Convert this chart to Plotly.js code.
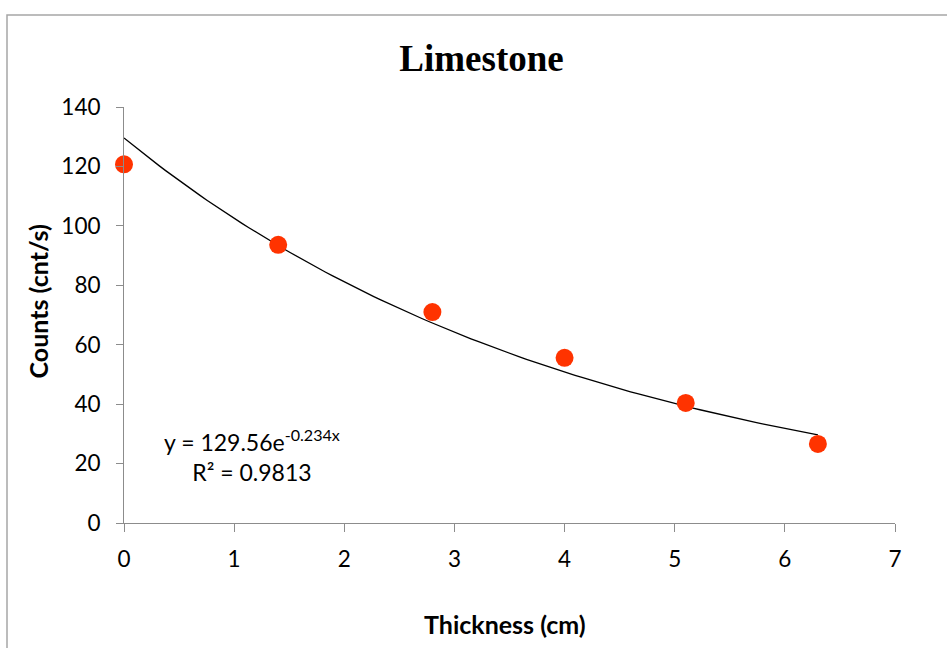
<!DOCTYPE html>
<html>
<head>
<meta charset="utf-8">
<script src="https://cdn.plot.ly/plotly-3.0.1.min.js"></script>
<style>html,body{margin:0;padding:0;background:#fff;}#chart{width:947px;height:648px;}</style>
</head>
<body>
<div id="chart"></div>
<script>
// Data
var thickness = [0, 1.4, 2.8, 4.0, 5.1, 6.3];
var counts = [120.7, 93.6, 71.0, 55.6, 40.4, 26.6];
// Trendline coefficients as printed on the chart: y = A * e^(B x)
var fitA = 129.56;
var fitB = -0.234;
var rSquared = 0.9813;
var xTicks = [0, 1, 2, 3, 4, 5, 6, 7];
var yTicks = [0, 20, 40, 60, 80, 100, 120, 140];

var fitX = [], fitY = [];
var xmin = Math.min.apply(null, thickness), xmax = Math.max.apply(null, thickness);
for (var i = 0; i <= 100; i++) {
  var xv = xmin + (xmax - xmin) * i / 100;
  fitX.push(xv);
  fitY.push(fitA * Math.exp(fitB * xv));
}

var L = 124, R = 895, T = 107, B = 523, W = 947, H = 648;
function px(x){ return (x - L) / (R - L); }
function py(y){ return (B - y) / (B - T); }

var traces = [
  {x: fitX, y: fitY, mode: 'lines', line: {color: '#000000', width: 1.3}, hoverinfo: 'skip', showlegend: false, cliponaxis: false},
  {x: thickness, y: counts, mode: 'markers', marker: {color: '#FF3300', size: 18}, showlegend: false, cliponaxis: false}
];

var axisFont = {family: 'Lato, sans-serif', size: 22.5, color: '#000'};
var layout = {
  width: W, height: H,
  margin: {l: L, r: W - R, t: T, b: H - B, pad: 0},
  paper_bgcolor: '#fff', plot_bgcolor: '#fff',
  showlegend: false,
  title: {text: '<b>Limestone</b>', font: {family: '"Liberation Serif", "Times New Roman", serif', size: 37, color: '#000'},
          x: 481.5 / W, xanchor: 'center', y: 1 - 58 / H, yanchor: 'middle', xref: 'container', yref: 'container'},
  xaxis: {range: [0, 7], tickvals: xTicks, ticktext: xTicks.map(String), showgrid: false, zeroline: false,
          showline: true, linecolor: '#8c8c8c', linewidth: 1, ticks: 'outside', ticklen: 8, tickcolor: '#8c8c8c', tickwidth: 1,
          tickfont: axisFont, ticklabelstandoff: 8, fixedrange: true},
  yaxis: {range: [0, 140], tickvals: yTicks, ticktext: yTicks.map(String), showgrid: false, zeroline: false,
          showline: true, linecolor: '#8c8c8c', linewidth: 1, ticks: 'outside', ticklen: 7, tickcolor: '#8c8c8c', tickwidth: 1,
          tickfont: axisFont, ticklabelstandoff: 11, fixedrange: true},
  annotations: [
    {text: '<b>Thickness (cm)</b>', xref: 'paper', yref: 'paper', x: px(505), y: py(624), xanchor: 'center', yanchor: 'middle',
     showarrow: false, font: {family: 'Lato, sans-serif', size: 25, color: '#000'}},
    {text: '<b>Counts (cnt/s)</b>', xref: 'paper', yref: 'paper', x: px(37.5), y: py(302), xanchor: 'center', yanchor: 'middle',
     textangle: -90, showarrow: false, font: {family: 'Lato, sans-serif', size: 25, color: '#000'}},
    {text: 'y = ' + fitA.toFixed(2) + 'e<sup>' + fitB + 'x</sup><br>R² = ' + rSquared, xref: 'paper', yref: 'paper',
     x: px(252), y: py(455), xanchor: 'center', yanchor: 'middle', align: 'center', showarrow: false,
     font: {family: 'Lato, sans-serif', size: 23, color: '#000'}}
  ],
  shapes: [
    {type: 'rect', xref: 'paper', yref: 'paper', x0: px(7), x1: px(990), y0: py(700), y1: py(15),
     line: {color: '#a6a6a6', width: 1.5}, fillcolor: 'rgba(0,0,0,0)', layer: 'below'}
  ]
};

Plotly.newPlot('chart', traces, layout, {displayModeBar: false, staticPlot: true});
</script>
</body>
</html>
